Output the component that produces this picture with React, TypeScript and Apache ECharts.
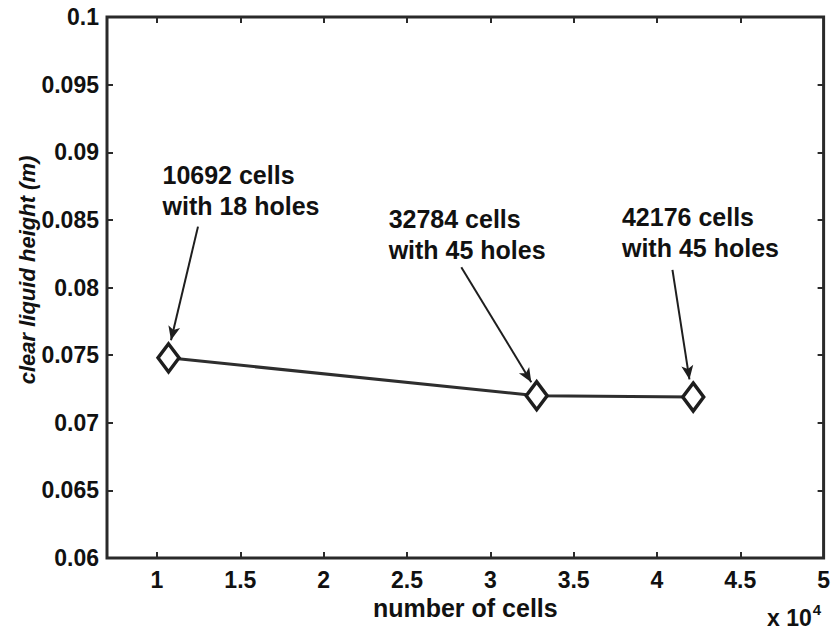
import React, { useEffect, useRef } from "react";
import * as echarts from "echarts";

// Mesh study: clear liquid height vs. number of cells
const cells = [10692, 32784, 42176];
const holes = [18, 45, 45];
const clearHeight = [0.0748, 0.072, 0.0719];

// Tick values for the x axis (cells), labelled in units of 10^4
const xTicks = [10000, 15000, 20000, 25000, 30000, 35000, 40000, 45000, 50000];

// Annotation anchors (data space): text block left-middle, arrow tail and arrow tip
const noteAnchorX = [10300, 23870, 37870];
const noteAnchorY = [0.0872, 0.0839, 0.0841];
const arrowFromX = [12460, 28260, 40930];
const arrowFromY = [0.0845, 0.0815, 0.0813];
const arrowToX = [10840, 32460, 41950];
const arrowToY = [0.0761, 0.073, 0.0732];

const FONT = "'Liberation Sans', Arial, Helvetica, sans-serif";
const INK = "#111111";
const FRAME = "#2a2a2a";

export default function App() {
  const ref = useRef<HTMLDivElement>(null);

  useEffect(() => {
    document.body.style.margin = "0";
    const chart = echarts.init(ref.current!, null, { renderer: "svg" });

    const tickLabel = {
      color: INK,
      fontFamily: FONT,
      fontWeight: "bold" as const,
      fontSize: 23,
    };

    const xBase = {
      type: "value" as const,
      min: 7000,
      max: 50000,
      splitLine: { show: false },
      axisLine: { show: false },
    };
    const yBase = {
      type: "value" as const,
      min: 0.06,
      max: 0.1,
      interval: 0.005,
      splitLine: { show: false },
      axisLine: { show: false },
    };

    chart.setOption({
      animation: false,
      backgroundColor: "#ffffff",
      grid: {
        left: 107,
        right: 9,
        top: 17,
        bottom: 76,
        show: true,
        borderColor: FRAME,
        borderWidth: 3,
        backgroundColor: "transparent",
      },
      xAxis: [
        {
          ...xBase,
          position: "bottom",
          axisTick: {
            inside: true,
            length: 6,
            customValues: xTicks,
            lineStyle: { color: FRAME, width: 2 },
          },
          axisLabel: {
            ...tickLabel,
            margin: 10,
            customValues: xTicks,
            formatter: (v: number) => String(+(v / 10000).toFixed(1)),
          },
          name: "number of cells",
          nameLocation: "middle",
          nameGap: 35,
          nameTextStyle: { ...tickLabel, fontSize: 25 },
        },
        {
          ...xBase,
          position: "top",
          axisTick: {
            inside: true,
            length: 6,
            customValues: xTicks,
            lineStyle: { color: FRAME, width: 2 },
          },
          axisLabel: { show: false },
        },
      ],
      yAxis: [
        {
          ...yBase,
          position: "left",
          axisTick: { inside: true, length: 6, lineStyle: { color: FRAME, width: 2 } },
          axisLabel: {
            ...tickLabel,
            margin: 8,
            formatter: (v: number) => String(+v.toFixed(3)),
          },
        },
        {
          ...yBase,
          position: "right",
          axisTick: { inside: true, length: 6, lineStyle: { color: FRAME, width: 2 } },
          axisLabel: { show: false },
        },
      ],
      graphic: [
        {
          type: "text",
          x: 27,
          y: 270,
          rotation: Math.PI / 2,
          style: {
            text: "clear liquid height (m)",
            fill: INK,
            font: `italic bold 22px ${FONT}`,
            align: "center",
            verticalAlign: "middle",
          },
        },
        {
          type: "text",
          x: 767,
          y: 618,
          style: {
            text: "{b|x 10}{s|4}",
            fill: INK,
            verticalAlign: "middle",
            rich: {
              b: { font: `bold 23px ${FONT}`, fill: INK },
              s: { font: `bold 15px ${FONT}`, fill: INK, verticalAlign: "top", padding: [0, 0, 18, 1] },
            },
          },
        },
      ],
      series: [
        {
          type: "line",
          data: cells.map((c, i) => [c, clearHeight[i]]),
          symbol: "diamond",
          symbolSize: [21, 28],
          lineStyle: { color: "#2e2e2e", width: 3 },
          itemStyle: { color: "#ffffff", borderColor: "#1e1e1e", borderWidth: 3.5 },
          z: 3,
          markLine: {
            silent: true,
            symbol: ["none", "arrow"],
            symbolSize: [9, 14],
            lineStyle: { type: "solid", color: "#1e1e1e", width: 2 },
            label: { show: false },
            data: arrowFromX.map((x, i) => [
              { coord: [x, arrowFromY[i]] },
              { coord: [arrowToX[i], arrowToY[i]] },
            ]),
          },
        },
        {
          type: "scatter",
          data: noteAnchorX.map((x, i) => [x, noteAnchorY[i]]),
          symbolSize: 1,
          itemStyle: { color: "rgba(0,0,0,0)", opacity: 1 },
          silent: true,
          label: {
            show: true,
            position: "right",
            distance: 0,
            align: "left",
            verticalAlign: "middle",
            color: INK,
            opacity: 1,
            fontFamily: FONT,
            fontWeight: "bold",
            fontSize: 25,
            lineHeight: 31,
            formatter: (p: any) =>
              `${cells[p.dataIndex]} cells\nwith ${holes[p.dataIndex]} holes`,
          },
        },
      ],
    });

    return () => chart.dispose();
  }, []);

  return <div ref={ref} style={{ width: 833, height: 634 }} />;
}
